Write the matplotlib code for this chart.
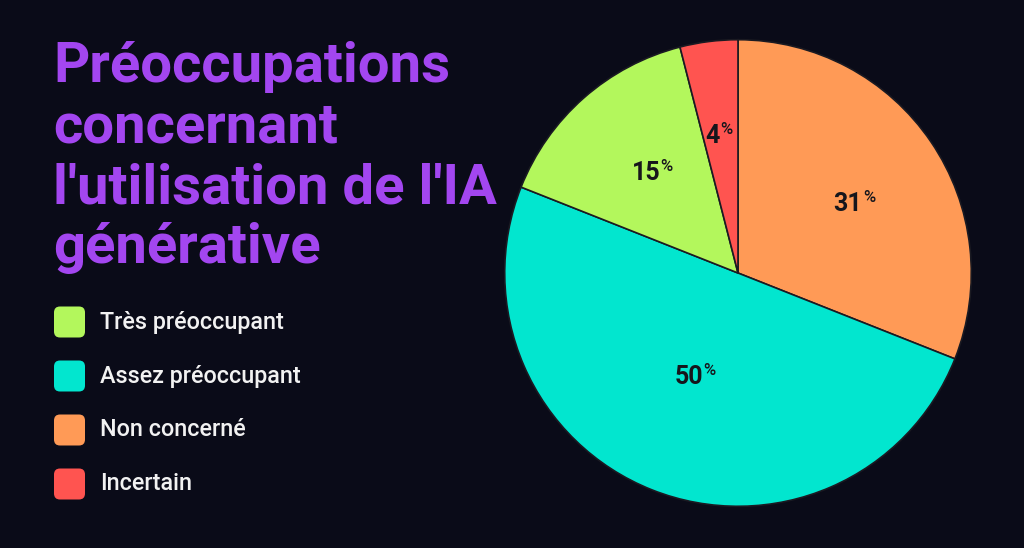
import matplotlib
matplotlib.use("Agg")
import matplotlib.pyplot as plt
from matplotlib.patches import FancyBboxPatch
from matplotlib.transforms import offset_copy
import numpy as np

title_lines = ["Préoccupations", "concernant", "l'utilisation de l'IA", "générative"]
legend_labels = ["Très préoccupant", "Assez préoccupant", "Non concerné", "Incertain"]
legend_colors = ["#b3f75c", "#02e6cf", "#ff9a56", "#ff5450"]
# pie order (clockwise from top)
pie_labels = ["Non concerné", "Assez préoccupant", "Très préoccupant", "Incertain"]
pie_values = [31, 50, 15, 4]
pie_colors = ["#ff9a56", "#02e6cf", "#b3f75c", "#ff5450"]

BG = "#0a0b18"
PURPLE = "#a346f0"

plt.rcParams['font.family'] = ['Roboto', 'DejaVu Sans']
fig = plt.figure(figsize=(10.24, 5.48), dpi=100, facecolor=BG)

# Title
tax = fig.add_axes([0, 0, 1, 1])
tax.set_xlim(0, 1024); tax.set_ylim(548, 0); tax.axis('off')
for i, line in enumerate(title_lines):
    tax.text(53, 82 + i * 60.5, line, color=PURPLE, fontsize=40.5, fontweight='bold',
             ha='left', va='baseline')

# Legend
for i, (lab, col) in enumerate(zip(legend_labels, legend_colors)):
    yc = 322 + i * 54
    tax.add_patch(FancyBboxPatch((54, yc - 15.5), 31, 31, boxstyle="round,pad=0,rounding_size=6",
                                 fc=col, ec='none'))
    tax.text(100, yc, lab, color="#f2f2f2", fontsize=16.8, fontweight='medium',
             ha='left', va='center')

# Pie
pax = fig.add_axes([504/1024, 1 - 507/548, 468/1024, 468/548])
wedges, _ = pax.pie(pie_values, colors=pie_colors, startangle=90, counterclock=False,
                    wedgeprops=dict(edgecolor="#1a1a22", linewidth=1.2))
pax.set_xlim(-1.003, 1.003); pax.set_ylim(-1.003, 1.003)
pax.set_aspect('equal')
dists = [0.585, 0.475, 0.573, 0.603]
ang_shift = [-2.7, -1.2, -1.4, 0.6]
for w, v, d, s in zip(wedges, pie_values, dists, ang_shift):
    ang = np.deg2rad((w.theta1 + w.theta2) / 2 + s)
    x, y = d * np.cos(ang), d * np.sin(ang)
    tr = offset_copy(pax.transData, fig=fig, x=-4.5, y=-1.5, units='points')
    num = pax.text(x, y, str(v), transform=tr, ha='center', va='center', fontsize=18,
                   fontweight='bold', color="#16161c")
    pax.annotate("%", xy=(1, 1), xycoords=num, xytext=(0.2, 1.5), textcoords='offset points',
                 ha='left', va='top', fontsize=12, fontweight='medium', color="#16161c")

fig.savefig("out.png", dpi=100, facecolor=BG)
